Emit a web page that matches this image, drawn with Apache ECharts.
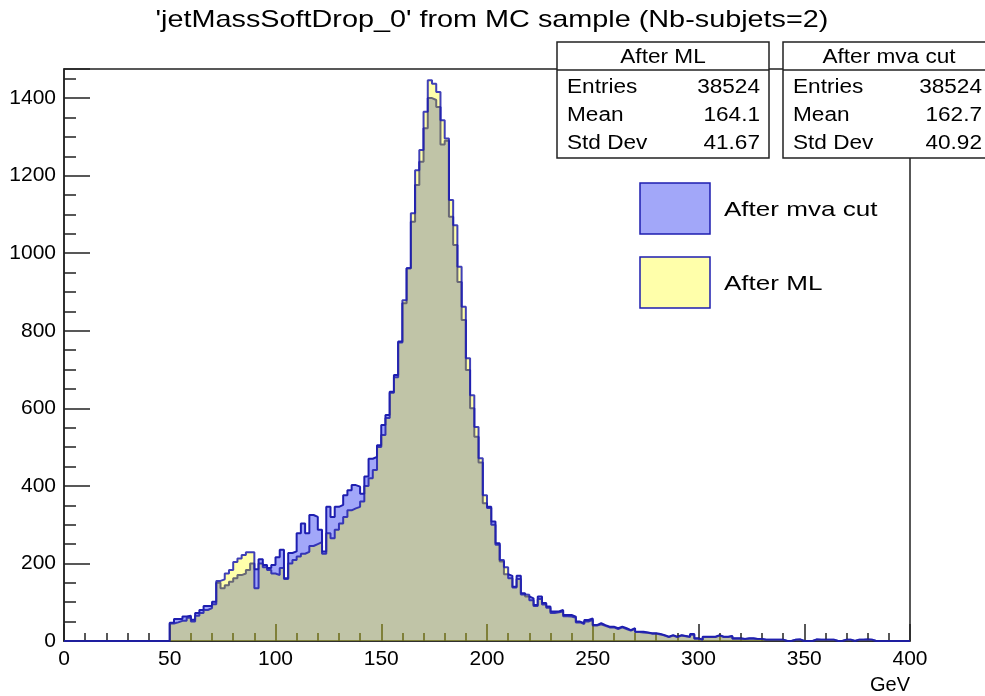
<!DOCTYPE html>
<html>
<head>
<meta charset="utf-8">
<script src="https://cdn.jsdelivr.net/npm/echarts@6/dist/echarts.min.js"></script>
<style>
  html, body { margin: 0; padding: 0; background: #ffffff; }
  #chart { width: 985px; height: 696px; }
</style>
</head>
<body>
<div id="chart"></div>
<script>
// Histogram binning: 2 GeV bins, first filled bin starts at 50 GeV
const binWidth = 2;
const firstBinLow = 50;
const axisMin = 0;
const axisMax = 400;

// Bin contents, "After mva cut" (bins 50-52, 52-54, ...)
const afterMvaCut = [
  47, 57, 57, 63, 65, 55, 72, 80, 90, 90,
  101, 150, 136, 144, 153, 162, 170, 174, 183, 200,
  185, 211, 196, 188, 196, 216, 235, 162, 227, 231,
  278, 303, 278, 325, 320, 287, 231, 346, 320, 346,
  351, 376, 389, 402, 398, 380, 424, 470, 475, 505,
  557, 583, 643, 686, 772, 871, 961, 1081, 1176, 1236,
  1322, 1400, 1395, 1377, 1280, 1290, 1094, 1021, 926, 828,
  699, 600, 527, 460, 355, 346, 308, 252, 205, 172,
  168, 140, 168, 123, 115, 110, 93, 115, 98, 89,
  76, 76, 80, 67, 67, 63, 50, 46, 54, 58,
  41, 46, 41, 37, 37, 33, 37, 33, 28, 33,
  24, 24, 22, 20, 20, 18, 15, 11, 15, 11,
  15, 13, 11, 18, 7, 3, 11, 11, 11, 15,
  11, 11, 13, 7, 7, 5, 7, 7, 5, 5,
  3, 3, 3, 3, 3, 0, 0, 3, 4, 0,
  0, 0, 4, 3, 3, 3, 3, 0, 0, 3,
  3, 0, 3, 3, 4, 3, 0
];

// Bin contents, "After ML" (same binning)
const afterML = [
  45, 48, 52, 52, 60, 50, 65, 72, 80, 85,
  95, 155, 159, 174, 183, 204, 213, 222, 229, 229,
  136, 200, 190, 183, 174, 170, 188, 160, 200, 209,
  218, 225, 230, 245, 250, 255, 225, 278, 265, 287,
  303, 320, 337, 342, 346, 360, 400, 420, 441, 500,
  531, 575, 640, 680, 770, 879, 961, 1103, 1214, 1266,
  1365, 1446, 1437, 1416, 1343, 1296, 1137, 1072, 965, 862,
  729, 634, 552, 471, 376, 343, 300, 248, 209, 190,
  162, 138, 160, 120, 119, 105, 90, 108, 94, 86,
  72, 74, 76, 64, 63, 60, 48, 44, 50, 55,
  40, 43, 39, 35, 35, 31, 35, 31, 27, 31,
  23, 22, 21, 19, 19, 17, 14, 10, 14, 10,
  14, 12, 10, 16, 6, 3, 10, 10, 10, 14,
  10, 10, 12, 6, 6, 5, 6, 6, 5, 5,
  3, 3, 3, 3, 3, 0, 0, 3, 4, 0,
  0, 0, 4, 3, 3, 3, 3, 0, 0, 3,
  3, 0, 3, 3, 4, 3, 0
];

// Summary statistics shown in the boxes
const statLabels = ['Entries', 'Mean', 'Std Dev'];
const statsML = ['38524', '164.1', '41.67'];
const statsMva = ['38524', '162.7', '40.92'];

const titleText = "'jetMassSoftDrop_0' from MC sample (Nb-subjets=2)";
const legendNames = ['After mva cut', 'After ML'];

// Turn bin contents into step-line points (left edge of each bin),
// with the empty range on both sides drawn along zero.
function toStepPoints(counts) {
  const pts = [[axisMin, 0]];
  counts.forEach((c, i) => pts.push([firstBinLow + i * binWidth, c]));
  pts.push([firstBinLow + counts.length * binWidth, 0]);
  pts.push([axisMax, 0]);
  return pts;
}

const FONT = "'Liberation Sans', Arial, Helvetica, sans-serif";
const BLUE_FILL = '#a2a7f9';
const BLUE_LINE = '#1e1eb0';

function statsBox(x0, w, header, values, valueRight) {
  const y0 = 42, h = 116, headH = 28;
  const stretch = 1.13;
  const font = '20px ' + FONT;
  const rowCenters = [87, 115, 143];
  const children = [
    { type: 'rect', shape: { x: x0, y: y0, width: w, height: h },
      style: { fill: '#fff', stroke: '#222', lineWidth: 1.5 } },
    { type: 'line', shape: { x1: x0, y1: y0 + headH, x2: x0 + w, y2: y0 + headH },
      style: { stroke: '#222', lineWidth: 1.5 } },
    { type: 'text', x: x0 + w / 2, y: y0 + headH / 2 + 1, scaleX: stretch,
      style: { text: header, font: font, fill: '#000',
               textAlign: 'center', textVerticalAlign: 'middle' } }
  ];
  statLabels.forEach((lab, i) => {
    const cy = rowCenters[i];
    children.push({ type: 'text', x: x0 + 10, y: cy, scaleX: stretch,
      style: { text: lab, font: font, fill: '#000',
               textAlign: 'left', textVerticalAlign: 'middle' } });
    children.push({ type: 'text', x: valueRight, y: cy, scaleX: stretch,
      style: { text: values[i], font: font, fill: '#000',
               textAlign: 'right', textVerticalAlign: 'middle' } });
  });
  return children;
}

const chart = echarts.init(document.getElementById('chart'), null, { renderer: 'canvas' });

chart.setOption({
  animation: false,
  backgroundColor: '#ffffff',
  grid: {
    left: 64, right: 75, top: 69, bottom: 55,
    show: true, borderColor: '#222', borderWidth: 1.5, backgroundColor: 'transparent'
  },
  xAxis: {
    type: 'value', min: axisMin, max: axisMax, interval: 50, z: 2,
    name: 'GeV', nameLocation: 'end', nameGap: 0,
    nameTextStyle: { fontFamily: FONT, fontSize: 20, color: '#000',
                     align: 'right', verticalAlign: 'top', padding: [34, 0, 0, 0] },
    axisLine: { show: true, lineStyle: { color: '#222', width: 1.5 } },
    axisTick: { show: true, inside: true, length: 17, lineStyle: { color: '#222', width: 1.5 } },
    minorTick: { show: true, splitNumber: 5, length: 8, lineStyle: { color: '#222', width: 1.5 } },
    splitLine: { show: false },
    axisLabel: { fontFamily: FONT, fontSize: 21, color: '#000', margin: 8 }
  },
  yAxis: {
    type: 'value', min: 0, max: 1475, interval: 200, z: 2,
    axisLine: { show: true, lineStyle: { color: '#222', width: 1.5 } },
    axisTick: { show: true, inside: true, length: 26, lineStyle: { color: '#222', width: 1.5 } },
    minorTick: { show: true, splitNumber: 4, length: 12, lineStyle: { color: '#222', width: 1.5 } },
    splitLine: { show: false },
    axisLabel: { fontFamily: FONT, fontSize: 21, color: '#000', margin: 8,
                 showMaxLabel: false,
                 formatter: v => (v % 200 === 0 ? String(v) : '') }
  },
  series: [
    {
      name: legendNames[0], type: 'line', step: 'end', z: 1,
      data: toStepPoints(afterMvaCut), symbol: 'none', silent: true,
      lineStyle: { color: BLUE_LINE, width: 2 },
      areaStyle: { color: BLUE_FILL, opacity: 1 }
    },
    {
      name: legendNames[1], type: 'line', step: 'end', z: 3,
      data: toStepPoints(afterML), symbol: 'none', silent: true,
      lineStyle: { color: BLUE_LINE, width: 2, opacity: 0.85 },
      areaStyle: { color: 'rgba(255,255,0,0.33)', opacity: 1 }
    }
  ],
  graphic: [
    { type: 'text', x: 492, y: 20, scaleX: 1.2, z: 10,
      style: { text: titleText, font: '24px ' + FONT, fill: '#000',
               textAlign: 'center', textVerticalAlign: 'middle' } },
    { type: 'group', z: 20, children: statsBox(557, 212, 'After ML', statsML, 760) },
    { type: 'group', z: 20, children: statsBox(783, 212, 'After mva cut', statsMva, 982) },
    { type: 'group', z: 20, children: [
      { type: 'rect', shape: { x: 640, y: 183, width: 70, height: 51 },
        style: { fill: BLUE_FILL, stroke: BLUE_LINE, lineWidth: 1.5 } },
      { type: 'text', x: 724, y: 210, scaleX: 1.24,
        style: { text: legendNames[0], font: '21px ' + FONT, fill: '#000',
                 textAlign: 'left', textVerticalAlign: 'middle' } },
      { type: 'rect', shape: { x: 640, y: 257, width: 70, height: 51 },
        style: { fill: '#ffffaa', stroke: BLUE_LINE, lineWidth: 1.5 } },
      { type: 'text', x: 724, y: 284, scaleX: 1.24,
        style: { text: legendNames[1], font: '21px ' + FONT, fill: '#000',
                 textAlign: 'left', textVerticalAlign: 'middle' } }
    ] }
  ]
});
</script>
</body>
</html>
